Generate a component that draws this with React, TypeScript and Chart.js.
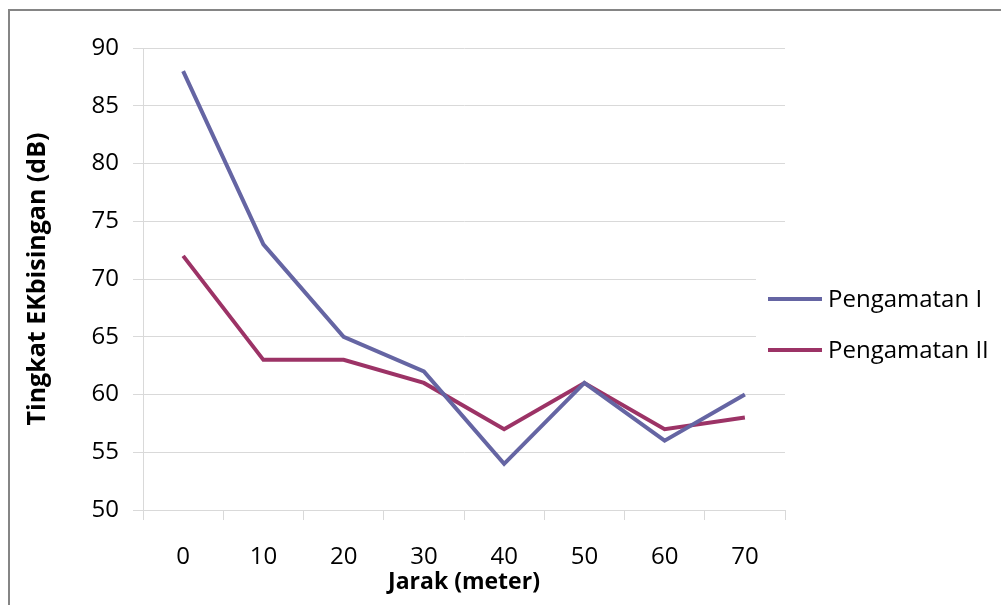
import React, { useEffect, useRef } from "react";
import { Chart, registerables } from "chart.js";

Chart.register(...registerables);

const categories = ["0", "10", "20", "30", "40", "50", "60", "70"];
const pengamatanI = [88, 73, 65, 62, 54, 61, 56, 60];
const pengamatanII = [72, 63, 63, 61, 57, 61, 57, 58];
const seriesLabels = ["Pengamatan I", "Pengamatan II"];
const seriesColors = ["#6565A3", "#9C3366"];
const yMin = 50;
const yMax = 90;
const yStep = 5;
const xTitle = "Jarak (meter)";
const yTitle = "Tingkat EKbisingan (dB)";

const FONT = "'Open Sans', sans-serif";
const GRID = "#d9d9d9";
const TEXT = "#000000";

const sideLegend = {
  id: "sideLegend",
  afterDraw(chart: any) {
    const ctx = chart.ctx;
    ctx.save();
    ctx.fillStyle = "#ffffff";
    ctx.fillRect(756, 266, 245, 118);
    chart.data.datasets.forEach((ds: any, i: number) => {
      const y = 299 + i * 51;
      ctx.strokeStyle = ds.borderColor;
      ctx.lineWidth = 4;
      ctx.lineCap = "butt";
      ctx.beginPath();
      ctx.moveTo(768, y);
      ctx.lineTo(822, y);
      ctx.stroke();
      ctx.fillStyle = TEXT;
      ctx.font = `24px ${FONT}`;
      ctx.textBaseline = "middle";
      ctx.textAlign = "left";
      ctx.fillText(ds.label, 828, y + 1);
    });
    ctx.restore();
  },
};

export default function App() {
  const ref = useRef<HTMLCanvasElement | null>(null);

  useEffect(() => {
    if (!ref.current) return;
    const chart = new Chart(ref.current, {
      type: "line",
      data: {
        labels: categories,
        datasets: [
          {
            label: seriesLabels[0],
            data: pengamatanI,
            borderColor: seriesColors[0],
            backgroundColor: seriesColors[0],
            borderWidth: 4,
            pointRadius: 0,
            tension: 0,
          },
          {
            label: seriesLabels[1],
            data: pengamatanII,
            borderColor: seriesColors[1],
            backgroundColor: seriesColors[1],
            borderWidth: 4,
            pointRadius: 0,
            tension: 0,
          },
        ],
      },
      options: {
        responsive: false,
        animation: false,
        devicePixelRatio: 1,
        layout: { padding: { top: 48, right: 216, bottom: 0, left: 0 } },
        plugins: {
          legend: { display: false },
          tooltip: { enabled: false },
        },
        scales: {
          x: {
            type: "category",
            offset: true,
            grid: {
              offset: true,
              drawOnChartArea: false,
              drawTicks: true,
              tickLength: 10,
              color: GRID,
            },
            border: { color: GRID, width: 1 },
            ticks: {
              color: TEXT,
              font: { family: FONT, size: 24 },
              padding: 23,
              maxRotation: 0,
            },
            title: {
              display: true,
              text: xTitle,
              color: TEXT,
              font: { family: FONT, size: 23, weight: "bold" },
              padding: { top: 0, bottom: 9 },
            },
            afterFit(scale: any) {
              scale.height = 605 - 510;
            },
          },
          y: {
            min: yMin,
            max: yMax,
            grid: {
              color: GRID,
              drawTicks: true,
              tickLength: 10,
            },
            border: { color: GRID, width: 1 },
            ticks: {
              stepSize: yStep,
              color: TEXT,
              font: { family: FONT, size: 24 },
              padding: 14,
            },
            title: {
              display: true,
              text: yTitle,
              color: TEXT,
              font: { family: FONT, size: 25, weight: "bold" },
              padding: { top: 23, bottom: 0 },
            },
            afterFit(scale: any) {
              scale.width = 143;
            },
          },
        },
      },
      plugins: [sideLegend],
    });
    return () => chart.destroy();
  }, []);

  return (
    <div
      style={{
        position: "fixed",
        left: 0,
        top: 0,
        width: 1001,
        height: 605,
        overflow: "hidden",
        background: "#ffffff",
      }}
    >
      <div
        style={{
          position: "absolute",
          left: 8,
          top: 9,
          width: 1100,
          height: 700,
          borderTop: "2px solid #858585",
          borderLeft: "2px solid #858585",
        }}
      />
      <canvas
        ref={ref}
        width={1001}
        height={605}
        style={{ position: "absolute", left: 0, top: 0 }}
      />
    </div>
  );
}
